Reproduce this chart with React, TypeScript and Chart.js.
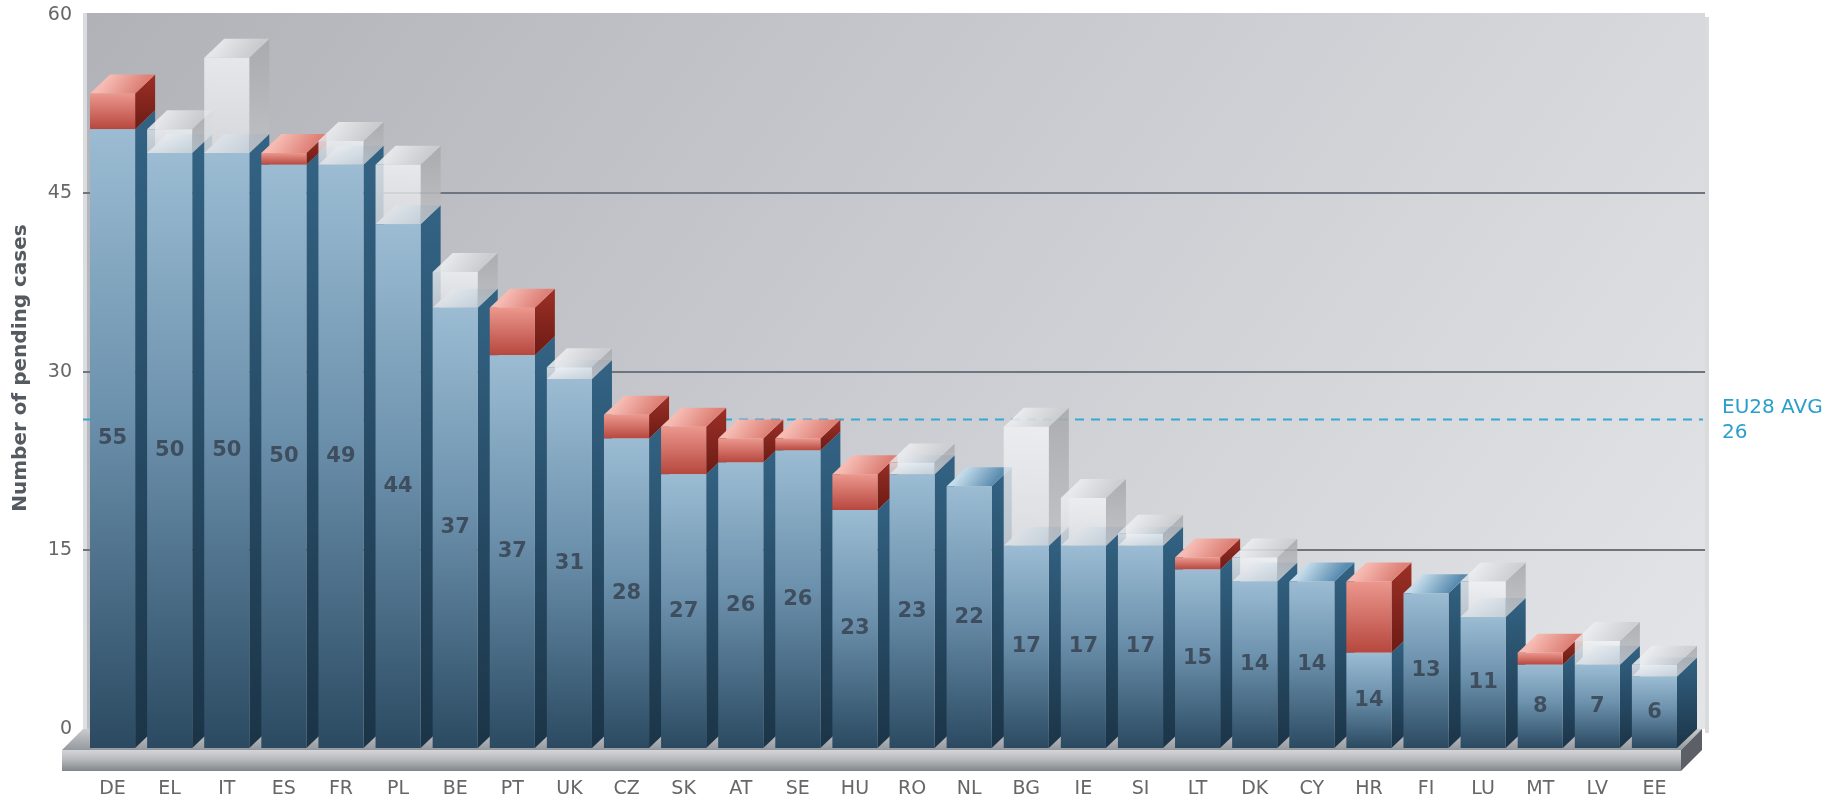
import React, { useEffect, useRef } from 'react';
import { Chart, registerables } from 'chart.js';

Chart.register(...registerables);

const categories = ['DE', 'EL', 'IT', 'ES', 'FR', 'PL', 'BE', 'PT', 'UK', 'CZ', 'SK', 'AT', 'SE', 'HU', 'RO', 'NL', 'BG', 'IE', 'SI', 'LT', 'DK', 'CY', 'HR', 'FI', 'LU', 'MT', 'LV', 'EE'];
const baseValues = [52, 50, 50, 49, 49, 44, 37, 33, 31, 26, 23, 24, 25, 20, 23, 22, 17, 17, 17, 15, 14, 14, 8, 13, 11, 7, 7, 6];
const increaseValues = [3, 0, 0, 1, 0, 0, 0, 4, 0, 2, 4, 2, 1, 3, 0, 0, 0, 0, 0, 1, 0, 0, 6, 0, 0, 1, 0, 0];
const decreaseValues = [0, 2, 8, 0, 2, 5, 3, 0, 1, 0, 0, 0, 0, 0, 1, 0, 10, 4, 1, 0, 2, 0, 0, 0, 3, 0, 2, 1];
const pendingLabels = [55, 50, 50, 50, 49, 44, 37, 37, 31, 28, 27, 26, 26, 23, 23, 22, 17, 17, 17, 15, 14, 14, 14, 13, 11, 8, 7, 6];
const yTickValues = [0, 15, 30, 45, 60];
const euAverage = 26;
const euAverageLines = ['EU28 AVG', '26'];
const yTitle = 'Number of pending cases';

const FONT = 'DejaVu Sans';
const DX = 20;
const DY = 19;
const FRONT_MAX = 61.76;
const BACK_SHIFT = 1.6;

const seriesList = [baseValues, increaseValues, decreaseValues];

function segmentPixels(chart: any, d: number, i: number) {
  const y = chart.scales.y;
  let start = 0;
  for (let k = 0; k < d; k++) start += seriesList[k][i];
  const end = start + seriesList[d][i];
  return [y.getPixelForValue(end), y.getPixelForValue(start)];
}

function makeFront(stops: [number, string][], fallback: string) {
  return (ctx: any) => {
    const chart = ctx.chart;
    if (ctx.type !== 'data' || !chart.chartArea) return fallback;
    const [y0, y1] = segmentPixels(chart, ctx.datasetIndex, ctx.dataIndex);
    if (!isFinite(y0) || !isFinite(y1) || Math.abs(y1 - y0) < 0.5) return fallback;
    const g = chart.ctx.createLinearGradient(0, y0, 0, y1);
    stops.forEach(([o, c]) => g.addColorStop(o, c));
    return g;
  };
}

function poly(c: CanvasRenderingContext2D, pts: number[][], fill: any) {
  c.beginPath();
  c.moveTo(pts[0][0], pts[0][1]);
  for (let k = 1; k < pts.length; k++) c.lineTo(pts[k][0], pts[k][1]);
  c.closePath();
  c.fillStyle = fill;
  c.fill();
}

const sideStops: [number, string][][] = [
  [[0, '#336384'], [1, '#1b3447']],
  [[0, '#9c3027'], [1, '#6c1b14']],
  [[0, 'rgba(168,169,173,0.88)'], [1, 'rgba(192,193,196,0.88)']],
];
const topStops: [number, string][][] = [
  [[0, '#c3dbea'], [1, '#5a8cb0']],
  [[0, '#f6bcb4'], [1, '#de8177']],
  [[0, 'rgba(236,237,239,0.88)'], [1, 'rgba(205,206,209,0.88)']],
];

const scenePlugin = {
  id: 'scene',
  beforeDatasetsDraw(chart: any) {
    const c: CanvasRenderingContext2D = chart.ctx;
    const a = chart.chartArea;
    const yb = chart.scales.yBack;
    const wl = a.left - 1;
    const wr = a.right + 22;
    const wt = a.top;
    const wb = yb.getPixelForValue(0);
    c.save();
    // wall shadow on right
    c.fillStyle = 'rgba(150,152,158,0.35)';
    c.fillRect(wr, wt + 4, 4, wb - wt);
    // wall
    const wg = c.createLinearGradient(wl, wt, wl + (wr - wl) * 0.85, wt + (wb - wt) * 1.45);
    wg.addColorStop(0, '#b0b2b8');
    wg.addColorStop(0.5, '#cbccd1');
    wg.addColorStop(1, '#e4e5e8');
    c.fillStyle = wg;
    c.fillRect(wl, wt, wr - wl, wb - wt);
    c.fillStyle = 'rgba(235,236,238,0.7)';
    c.fillRect(wl, wt, 4, wb - wt);
    // grid lines
    c.strokeStyle = '#6f757f';
    c.lineWidth = 2;
    yTickValues.forEach((v) => {
      if (v <= 0 || v >= 60) return;
      const py = Math.round(yb.getPixelForValue(v));
      c.beginPath();
      c.moveTo(wl, py);
      c.lineTo(wr, py);
      c.stroke();
    });
    // average line
    const ay = yb.getPixelForValue(euAverage);
    c.strokeStyle = '#3aa7d0';
    c.lineWidth = 2;
    c.setLineDash([9, 7]);
    c.beginPath();
    c.moveTo(wl, ay);
    c.lineTo(wr - 2, ay);
    c.stroke();
    c.setLineDash([]);
    // floor
    const fy = a.bottom + 2;
    const fl = a.left - 22;
    const fr = a.right - 2;
    const fh = 21;
    const tg = c.createLinearGradient(0, wb, 0, fy);
    tg.addColorStop(0, '#c9cbce');
    tg.addColorStop(1, '#95989d');
    poly(c, [[fl, fy], [fl + 21, wb], [fr + 21, wb], [fr, fy]], tg);
    const ffg = c.createLinearGradient(0, fy, 0, fy + fh);
    ffg.addColorStop(0, '#d3d5d8');
    ffg.addColorStop(0.45, '#b7b9bc');
    ffg.addColorStop(1, '#82858a');
    c.fillStyle = ffg;
    c.fillRect(fl, fy, fr - fl, fh);
    poly(c, [[fr, fy], [fr + 21, wb], [fr + 21, wb + fh], [fr, fy + fh]], '#5c6066');
    // bar side / top faces
    const metas = [0, 1, 2].map((d) => chart.getDatasetMeta(d));
    categories.forEach((_, i) => {
      for (let d = 0; d < 3; d++) {
        if (seriesList[d][i] <= 0) continue;
        const el = metas[d].data[i];
        const p = el.getProps(['x', 'y', 'base', 'width'], true);
        const xl = p.x - p.width / 2;
        const xr = p.x + p.width / 2;
        const top = Math.min(p.y, p.base);
        const bot = Math.max(p.y, p.base);
        const sg = c.createLinearGradient(0, top - DY, 0, bot);
        sideStops[d].forEach(([o, col]) => sg.addColorStop(o, col));
        poly(c, [[xr, top], [xr + DX, top - DY], [xr + DX, bot - DY], [xr, bot]], sg);
        const showTop = d > 0 || increaseValues[i] === 0;
        if (showTop) {
          const g = c.createLinearGradient(xl + DX, top - DY, xr, top);
          topStops[d].forEach(([o, col]) => g.addColorStop(o, col));
          poly(c, [[xl, top], [xl + DX, top - DY], [xr + DX, top - DY], [xr, top]], g);
        }
      }
    });
    c.restore();
  },
  afterDatasetsDraw(chart: any) {
    const c: CanvasRenderingContext2D = chart.ctx;
    const a = chart.chartArea;
    const yb = chart.scales.yBack;
    const meta = chart.getDatasetMeta(0);
    c.save();
    c.font = `bold 21px "${FONT}"`;
    c.fillStyle = 'rgba(52,62,76,0.8)';
    c.textAlign = 'center';
    c.textBaseline = 'middle';
    meta.data.forEach((el: any, i: number) => {
      const p = el.getProps(['x', 'y', 'base'], true);
      c.fillText(String(pendingLabels[i]), p.x, (p.y + p.base) / 2);
    });
    // y title
    c.save();
    c.translate(21, 368);
    c.rotate(-Math.PI / 2);
    c.font = `bold 20px "${FONT}"`;
    c.fillStyle = '#555a60';
    c.fillText(yTitle, 0, 0);
    c.restore();
    // average label
    const ay = yb.getPixelForValue(euAverage);
    c.font = `20px "${FONT}"`;
    c.fillStyle = '#2a9fcb';
    c.textAlign = 'left';
    c.fillText(euAverageLines[0], a.right + 39, ay - 12);
    c.fillText(euAverageLines[1], a.right + 39, ay + 13);
    c.restore();
  },
};

export default function App() {
  const ref = useRef<HTMLCanvasElement>(null);
  useEffect(() => {
    Chart.defaults.font.family = FONT;
    const chart = new Chart(ref.current as HTMLCanvasElement, {
      type: 'bar',
      data: {
        labels: categories,
        datasets: [
          {
            label: 'Pending',
            data: baseValues,
            backgroundColor: makeFront([[0, '#9bbcd3'], [0.45, '#6d92ad'], [1, '#2b4a62']], '#6d92ad'),
            borderWidth: 0,
            xAxisID: 'x',
            yAxisID: 'y',
          },
          {
            label: 'Increase',
            data: increaseValues,
            backgroundColor: makeFront([[0, '#ec978d'], [1, '#b6473e']], '#d06a60'),
            borderWidth: 0,
            xAxisID: 'x',
            yAxisID: 'y',
          },
          {
            label: 'Decrease',
            data: decreaseValues,
            backgroundColor: makeFront([[0, 'rgba(242,243,245,0.8)'], [1, 'rgba(222,223,226,0.8)']], 'rgba(230,231,233,0.8)'),
            borderWidth: 0,
            xAxisID: 'x',
            yAxisID: 'y',
          },
        ],
      },
      options: {
        responsive: true,
        maintainAspectRatio: false,
        animation: false,
        layout: { padding: { left: 0, top: 13, right: 152, bottom: 0 } },
        datasets: { bar: { categoryPercentage: 1, barPercentage: 0.79 } },
        plugins: { legend: { display: false }, tooltip: { enabled: false } },
        scales: {
          x: {
            stacked: true,
            grid: { display: false, drawTicks: false },
            border: { display: false },
            ticks: { padding: 30, color: '#666', font: { family: FONT, size: 19 } },
            afterFit: (s: any) => {
              s.height = 52;
              s.paddingLeft = 0;
              s.paddingRight = 0;
            },
          },
          y: {
            stacked: true,
            display: false,
            min: 0,
            max: FRONT_MAX,
          },
          yBack: {
            type: 'linear',
            position: 'left',
            min: -BACK_SHIFT,
            max: FRONT_MAX - BACK_SHIFT,
            grid: { display: false, drawTicks: false },
            border: { display: false },
            ticks: { padding: 12, color: '#666', font: { family: FONT, size: 19 } },
            afterBuildTicks: (s: any) => {
              s.ticks = yTickValues.map((v) => ({ value: v }));
            },
            afterFit: (s: any) => {
              s.width = 84;
              s.paddingTop = 0;
              s.paddingBottom = 0;
            },
          },
        },
      } as any,
      plugins: [scenePlugin],
    });
    return () => chart.destroy();
  }, []);
  return (
    <div style={{ position: 'fixed', left: 0, top: 0, width: 1835, height: 800, background: '#fff' }}>
      <canvas ref={ref} />
    </div>
  );
}
